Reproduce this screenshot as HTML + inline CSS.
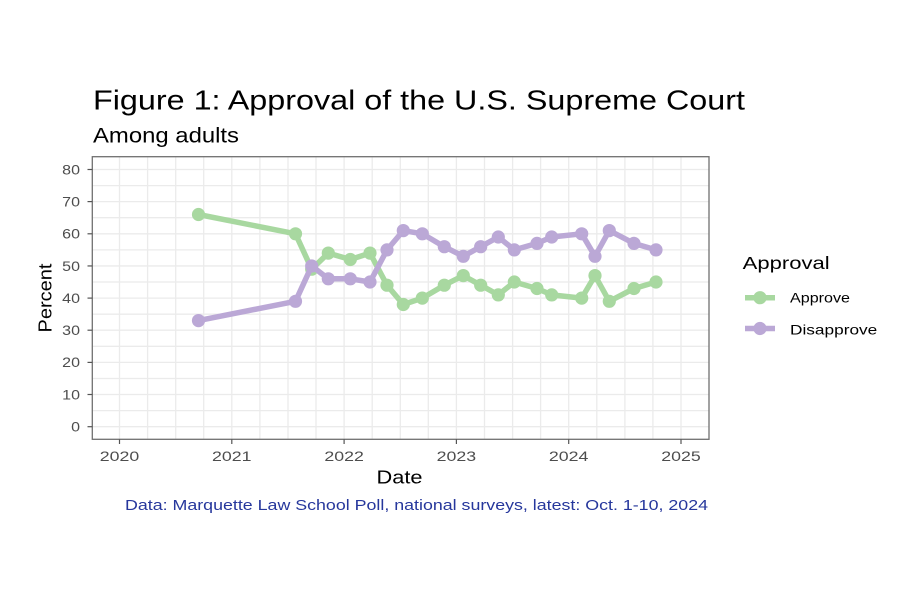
<!DOCTYPE html>
<html>
<head>
<meta charset="utf-8">
<style>
  html,body{margin:0;padding:0;background:#fff;}
  svg{display:block;}
  text{font-family:"Liberation Sans",Arial,sans-serif;}
</style>
</head>
<body>
<svg width="900" height="600" viewBox="0 0 900 600" xmlns="http://www.w3.org/2000/svg">
  <rect x="0" y="0" width="900" height="600" fill="#ffffff"/>

  <!-- Title / subtitle -->
  <text x="93" y="109.5" font-size="27.5" fill="#000" textLength="652" lengthAdjust="spacingAndGlyphs">Figure 1: Approval of the U.S. Supreme Court</text>
  <text x="93" y="142.3" font-size="21.5" fill="#000" textLength="146" lengthAdjust="spacingAndGlyphs">Among adults</text>

  <!-- Panel background -->
  <rect x="92.3" y="156.7" width="616.7" height="282.6" fill="#ffffff"/>

  <!-- Horizontal gridlines (every 5) -->
  <g stroke="#ebebeb" stroke-width="1.3">
    <line x1="92.3" x2="709" y1="426.7" y2="426.7"/>
    <line x1="92.3" x2="709" y1="410.6" y2="410.6"/>
    <line x1="92.3" x2="709" y1="394.5" y2="394.5"/>
    <line x1="92.3" x2="709" y1="378.5" y2="378.5"/>
    <line x1="92.3" x2="709" y1="362.4" y2="362.4"/>
    <line x1="92.3" x2="709" y1="346.3" y2="346.3"/>
    <line x1="92.3" x2="709" y1="330.2" y2="330.2"/>
    <line x1="92.3" x2="709" y1="314.2" y2="314.2"/>
    <line x1="92.3" x2="709" y1="298.1" y2="298.1"/>
    <line x1="92.3" x2="709" y1="282.0" y2="282.0"/>
    <line x1="92.3" x2="709" y1="265.95" y2="265.95"/>
    <line x1="92.3" x2="709" y1="249.9" y2="249.9"/>
    <line x1="92.3" x2="709" y1="233.8" y2="233.8"/>
    <line x1="92.3" x2="709" y1="217.7" y2="217.7"/>
    <line x1="92.3" x2="709" y1="201.6" y2="201.6"/>
    <line x1="92.3" x2="709" y1="185.6" y2="185.6"/>
    <line x1="92.3" x2="709" y1="169.5" y2="169.5"/>
  </g>
  <!-- Vertical gridlines (quarterly) -->
  <g stroke="#ebebeb" stroke-width="1.3">
    <line y1="156.7" y2="439.3" x1="119.5" x2="119.5"/>
    <line y1="156.7" y2="439.3" x1="147.6" x2="147.6"/>
    <line y1="156.7" y2="439.3" x1="175.7" x2="175.7"/>
    <line y1="156.7" y2="439.3" x1="203.7" x2="203.7"/>
    <line y1="156.7" y2="439.3" x1="231.8" x2="231.8"/>
    <line y1="156.7" y2="439.3" x1="259.9" x2="259.9"/>
    <line y1="156.7" y2="439.3" x1="288.0" x2="288.0"/>
    <line y1="156.7" y2="439.3" x1="316.0" x2="316.0"/>
    <line y1="156.7" y2="439.3" x1="344.1" x2="344.1"/>
    <line y1="156.7" y2="439.3" x1="372.2" x2="372.2"/>
    <line y1="156.7" y2="439.3" x1="400.3" x2="400.3"/>
    <line y1="156.7" y2="439.3" x1="428.3" x2="428.3"/>
    <line y1="156.7" y2="439.3" x1="456.4" x2="456.4"/>
    <line y1="156.7" y2="439.3" x1="484.5" x2="484.5"/>
    <line y1="156.7" y2="439.3" x1="512.6" x2="512.6"/>
    <line y1="156.7" y2="439.3" x1="540.6" x2="540.6"/>
    <line y1="156.7" y2="439.3" x1="568.7" x2="568.7"/>
    <line y1="156.7" y2="439.3" x1="596.8" x2="596.8"/>
    <line y1="156.7" y2="439.3" x1="624.9" x2="624.9"/>
    <line y1="156.7" y2="439.3" x1="652.9" x2="652.9"/>
    <line y1="156.7" y2="439.3" x1="681.0" x2="681.0"/>
  </g>

  <!-- Approve series -->
  <polyline fill="none" stroke="#a8d8a0" stroke-width="5.5" stroke-linejoin="round" stroke-linecap="round"
    points="198.5,214.5 295.5,233.8 311.7,269.2 328.3,253.1 350.3,259.5 370,253.1 387,285.2 403.3,304.5 422.3,298.1 444.3,285.2 463.3,275.6 480.7,285.2 498.3,294.9 514.3,282.0 537,288.5 551.7,294.9 581.7,298.1 595,275.6 609.3,301.3 634,288.5 656,282.0"/>
  <g fill="#a8d8a0">
    <circle cx="198.5" cy="214.5" r="6.6"/>
    <circle cx="295.5" cy="233.8" r="6.6"/>
    <circle cx="311.7" cy="269.2" r="6.6"/>
    <circle cx="328.3" cy="253.1" r="6.6"/>
    <circle cx="350.3" cy="259.5" r="6.6"/>
    <circle cx="370" cy="253.1" r="6.6"/>
    <circle cx="387" cy="285.2" r="6.6"/>
    <circle cx="403.3" cy="304.5" r="6.6"/>
    <circle cx="422.3" cy="298.1" r="6.6"/>
    <circle cx="444.3" cy="285.2" r="6.6"/>
    <circle cx="463.3" cy="275.6" r="6.6"/>
    <circle cx="480.7" cy="285.2" r="6.6"/>
    <circle cx="498.3" cy="294.9" r="6.6"/>
    <circle cx="514.3" cy="282.0" r="6.6"/>
    <circle cx="537" cy="288.5" r="6.6"/>
    <circle cx="551.7" cy="294.9" r="6.6"/>
    <circle cx="581.7" cy="298.1" r="6.6"/>
    <circle cx="595" cy="275.6" r="6.6"/>
    <circle cx="609.3" cy="301.3" r="6.6"/>
    <circle cx="634" cy="288.5" r="6.6"/>
    <circle cx="656" cy="282.0" r="6.6"/>
  </g>

  <!-- Disapprove series -->
  <polyline fill="none" stroke="#bba8d6" stroke-width="5.5" stroke-linejoin="round" stroke-linecap="round"
    points="198.5,320.6 295.5,301.3 311.7,265.95 328.3,278.8 350.3,278.8 370,282.0 387,249.9 403.3,230.6 422.3,233.8 444.3,246.7 463.3,256.3 480.7,246.7 498.3,237.0 514.3,249.9 537,243.4 551.7,237.0 581.7,233.8 595,256.3 609.3,230.6 634,243.4 656,249.9"/>
  <g fill="#bba8d6">
    <circle cx="198.5" cy="320.6" r="6.6"/>
    <circle cx="295.5" cy="301.3" r="6.6"/>
    <circle cx="311.7" cy="265.95" r="6.6"/>
    <circle cx="328.3" cy="278.8" r="6.6"/>
    <circle cx="350.3" cy="278.8" r="6.6"/>
    <circle cx="370" cy="282.0" r="6.6"/>
    <circle cx="387" cy="249.9" r="6.6"/>
    <circle cx="403.3" cy="230.6" r="6.6"/>
    <circle cx="422.3" cy="233.8" r="6.6"/>
    <circle cx="444.3" cy="246.7" r="6.6"/>
    <circle cx="463.3" cy="256.3" r="6.6"/>
    <circle cx="480.7" cy="246.7" r="6.6"/>
    <circle cx="498.3" cy="237.0" r="6.6"/>
    <circle cx="514.3" cy="249.9" r="6.6"/>
    <circle cx="537" cy="243.4" r="6.6"/>
    <circle cx="551.7" cy="237.0" r="6.6"/>
    <circle cx="581.7" cy="233.8" r="6.6"/>
    <circle cx="595" cy="256.3" r="6.6"/>
    <circle cx="609.3" cy="230.6" r="6.6"/>
    <circle cx="634" cy="243.4" r="6.6"/>
    <circle cx="656" cy="249.9" r="6.6"/>
  </g>

  <!-- Panel border -->
  <rect x="92.3" y="156.7" width="616.7" height="282.6" fill="none" stroke="#707070" stroke-width="1.3"/>

  <!-- Y ticks -->
  <g stroke="#555" stroke-width="1.2">
    <line x1="87.5" x2="92.3" y1="426.7" y2="426.7"/>
    <line x1="87.5" x2="92.3" y1="394.5" y2="394.5"/>
    <line x1="87.5" x2="92.3" y1="362.4" y2="362.4"/>
    <line x1="87.5" x2="92.3" y1="330.2" y2="330.2"/>
    <line x1="87.5" x2="92.3" y1="298.1" y2="298.1"/>
    <line x1="87.5" x2="92.3" y1="265.95" y2="265.95"/>
    <line x1="87.5" x2="92.3" y1="233.8" y2="233.8"/>
    <line x1="87.5" x2="92.3" y1="201.6" y2="201.6"/>
    <line x1="87.5" x2="92.3" y1="169.5" y2="169.5"/>
  </g>
  <g font-size="13.5" fill="#4d4d4d" text-anchor="end">
    <text x="80" y="431.5" textLength="8.9" lengthAdjust="spacingAndGlyphs">0</text>
    <text x="80" y="399.3" textLength="17.8" lengthAdjust="spacingAndGlyphs">10</text>
    <text x="80" y="367.2" textLength="17.8" lengthAdjust="spacingAndGlyphs">20</text>
    <text x="80" y="335.0" textLength="17.8" lengthAdjust="spacingAndGlyphs">30</text>
    <text x="80" y="302.9" textLength="17.8" lengthAdjust="spacingAndGlyphs">40</text>
    <text x="80" y="270.75" textLength="17.8" lengthAdjust="spacingAndGlyphs">50</text>
    <text x="80" y="238.6" textLength="17.8" lengthAdjust="spacingAndGlyphs">60</text>
    <text x="80" y="206.4" textLength="17.8" lengthAdjust="spacingAndGlyphs">70</text>
    <text x="80" y="174.3" textLength="17.8" lengthAdjust="spacingAndGlyphs">80</text>
  </g>

  <!-- X ticks -->
  <g stroke="#555" stroke-width="1.2">
    <line y1="439.3" y2="444" x1="119.5" x2="119.5"/>
    <line y1="439.3" y2="444" x1="231.8" x2="231.8"/>
    <line y1="439.3" y2="444" x1="344.1" x2="344.1"/>
    <line y1="439.3" y2="444" x1="456.4" x2="456.4"/>
    <line y1="439.3" y2="444" x1="568.7" x2="568.7"/>
    <line y1="439.3" y2="444" x1="681.0" x2="681.0"/>
  </g>
  <g font-size="14" fill="#4d4d4d" text-anchor="middle">
    <text x="119.5" y="461" textLength="39.5" lengthAdjust="spacingAndGlyphs">2020</text>
    <text x="231.8" y="461" textLength="39.5" lengthAdjust="spacingAndGlyphs">2021</text>
    <text x="344.1" y="461" textLength="39.5" lengthAdjust="spacingAndGlyphs">2022</text>
    <text x="456.4" y="461" textLength="39.5" lengthAdjust="spacingAndGlyphs">2023</text>
    <text x="568.7" y="461" textLength="39.5" lengthAdjust="spacingAndGlyphs">2024</text>
    <text x="681.0" y="461" textLength="39.5" lengthAdjust="spacingAndGlyphs">2025</text>
  </g>

  <!-- Axis titles -->
  <text x="399.5" y="483.5" font-size="18" fill="#000" text-anchor="middle" textLength="46" lengthAdjust="spacingAndGlyphs">Date</text>
  <text transform="translate(51.5,298) rotate(-90)" x="0" y="0" font-size="18" fill="#000" text-anchor="middle" textLength="69" lengthAdjust="spacingAndGlyphs">Percent</text>

  <!-- Caption -->
  <text x="125" y="510" font-size="14.3" fill="#26379c" textLength="583" lengthAdjust="spacingAndGlyphs">Data: Marquette Law School Poll, national surveys, latest: Oct. 1-10, 2024</text>

  <!-- Legend -->
  <text x="742.7" y="269" font-size="17.5" fill="#000" textLength="87" lengthAdjust="spacingAndGlyphs">Approval</text>
  <line x1="745" x2="775" y1="297.7" y2="297.7" stroke="#a8d8a0" stroke-width="5.5"/>
  <circle cx="760" cy="297.7" r="6.6" fill="#a8d8a0"/>
  <text x="790" y="302.5" font-size="14" fill="#000" textLength="60" lengthAdjust="spacingAndGlyphs">Approve</text>
  <line x1="745" x2="775" y1="328.5" y2="328.5" stroke="#bba8d6" stroke-width="5.5"/>
  <circle cx="760" cy="328.5" r="6.6" fill="#bba8d6"/>
  <text x="790" y="334.3" font-size="14" fill="#000" textLength="87.3" lengthAdjust="spacingAndGlyphs">Disapprove</text>
</svg>
</body>
</html>
